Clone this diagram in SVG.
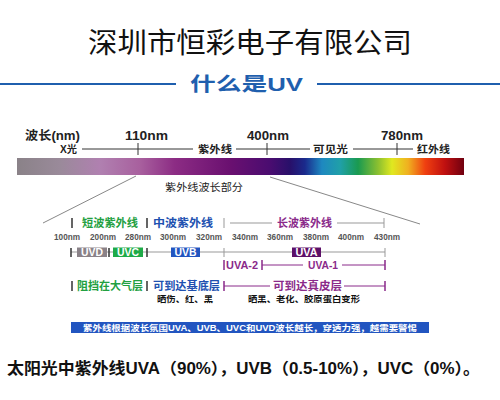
<svg xmlns="http://www.w3.org/2000/svg" width="500" height="400" viewBox="0 0 500 400">
<defs>
<linearGradient id="spec" x1="0" y1="0" x2="1" y2="0">
<stop offset="0" stop-color="#8a8288"/>
<stop offset="0.096" stop-color="#9a8a9a"/>
<stop offset="0.186" stop-color="#b080b0"/>
<stop offset="0.275" stop-color="#a8609e"/>
<stop offset="0.353" stop-color="#8c2c84"/>
<stop offset="0.477" stop-color="#6a1070"/>
<stop offset="0.566" stop-color="#4a0c70"/>
<stop offset="0.611" stop-color="#28106a"/>
<stop offset="0.644" stop-color="#1a2a8c"/>
<stop offset="0.682" stop-color="#1e88c0"/>
<stop offset="0.723" stop-color="#20a0a8"/>
<stop offset="0.763" stop-color="#1a9a50"/>
<stop offset="0.808" stop-color="#8cc030"/>
<stop offset="0.839" stop-color="#e0e820"/>
<stop offset="0.875" stop-color="#f0b020"/>
<stop offset="0.913" stop-color="#f04010"/>
<stop offset="0.957" stop-color="#c01010"/>
<stop offset="1" stop-color="#700010"/>
</linearGradient>
</defs>
<style>
text{font-family:"Liberation Sans","Noto Sans CJK SC",sans-serif}
.cjk{font-family:"Noto Sans CJK SC",sans-serif}
.b{font-weight:bold}
.top{font-size:12px;fill:#222;font-weight:bold}
.sm{font-size:10px;fill:#222}
.nm{font-size:8.5px;fill:#555;font-weight:bold;text-anchor:middle}
.row{font-size:11px;font-weight:600}
.g{fill:#22a040}
.bl{fill:#2050b0}
.pu{fill:#8a2a8a}
.box{font-size:10px;fill:#fff;font-weight:bold;text-anchor:middle}
.ln{stroke:#333;stroke-width:1;fill:none}
.gl{stroke:#999;stroke-width:1;fill:none}
.pl{stroke:#8a2a8a;stroke-width:1;fill:none}
.tk{stroke:#333;stroke-width:1.5}
.ptk{stroke:#8a2a8a;stroke-width:1.5}
</style>

<g id="title">
<text class="cjk" x="250" y="53" font-size="28" fill="#111" text-anchor="middle" textLength="324" lengthAdjust="spacingAndGlyphs">深圳市恒彩电子有限公司</text>
</g>

<g id="subtitle">
<line x1="0" y1="84" x2="176" y2="84" stroke="#1f5fae" stroke-width="2"/>
<line x1="317" y1="84" x2="500" y2="84" stroke="#1f5fae" stroke-width="2"/>
<text class="b" x="190" y="91" font-size="19" fill="#1f5fae" textLength="113" lengthAdjust="spacingAndGlyphs">什么是UV</text>
</g>

<g id="spectrum">
<text class="top" x="25" y="140" textLength="55" lengthAdjust="spacingAndGlyphs">波长(nm)</text>
<text class="top" x="125" y="140" textLength="43" lengthAdjust="spacingAndGlyphs">110nm</text>
<text class="top" x="247" y="140" textLength="42" lengthAdjust="spacingAndGlyphs">400nm</text>
<text class="top" x="381" y="140" textLength="42" lengthAdjust="spacingAndGlyphs">780nm</text>
<text class="sm b" x="60" y="152.5" textLength="17" lengthAdjust="spacingAndGlyphs">X光</text>
<text class="sm b" x="198" y="152.5" textLength="34" lengthAdjust="spacingAndGlyphs">紫外线</text>
<text class="sm b" x="313" y="152.5" textLength="35" lengthAdjust="spacingAndGlyphs">可见光</text>
<text class="sm b" x="417" y="152.5" textLength="33" lengthAdjust="spacingAndGlyphs">红外线</text>
<path class="ln" d="M82 149H193M236 149H310M353 149H413"/>
<path class="ln" d="M138 143V155M267 143V155M397 143V155"/>
<rect x="17" y="158" width="447" height="17" fill="url(#spec)"/>
<text class="sm" x="165" y="190.5" fill="#333" textLength="78" lengthAdjust="spacingAndGlyphs">紫外线波长部分</text>
</g>

<g id="connectors">
<line x1="136" y1="176" x2="43" y2="223" stroke="#888" stroke-width="1"/>
<line x1="270" y1="177" x2="420" y2="224" stroke="#888" stroke-width="1"/>
</g>

<g id="bands">
<path class="tk" d="M72 218V228M147 218V228"/>
<text class="row g" x="82" y="227" textLength="56" lengthAdjust="spacingAndGlyphs">短波紫外线</text>
<text class="row bl" x="153" y="227" textLength="60" lengthAdjust="spacingAndGlyphs">中波紫外线</text>
<path class="gl" d="M224 218V228M230 223H272M337 223H384M384 218V228"/>
<text class="row pu" x="277" y="227" textLength="55" lengthAdjust="spacingAndGlyphs">长波紫外线</text>
</g>

<g id="scale">
<text class="nm" x="67" y="240" textLength="26" lengthAdjust="spacingAndGlyphs">100nm</text>
<text class="nm" x="103" y="240" textLength="26" lengthAdjust="spacingAndGlyphs">200nm</text>
<text class="nm" x="138" y="240" textLength="26" lengthAdjust="spacingAndGlyphs">280nm</text>
<text class="nm" x="173" y="240" textLength="26" lengthAdjust="spacingAndGlyphs">300nm</text>
<text class="nm" x="209" y="240" textLength="26" lengthAdjust="spacingAndGlyphs">320nm</text>
<text class="nm" x="245" y="240" textLength="26" lengthAdjust="spacingAndGlyphs">340nm</text>
<text class="nm" x="280" y="240" textLength="26" lengthAdjust="spacingAndGlyphs">360nm</text>
<text class="nm" x="316" y="240" textLength="26" lengthAdjust="spacingAndGlyphs">380nm</text>
<text class="nm" x="351" y="240" textLength="26" lengthAdjust="spacingAndGlyphs">400nm</text>
<text class="nm" x="387" y="240" textLength="26" lengthAdjust="spacingAndGlyphs">430nm</text>
</g>

<g id="types">
<line x1="71" y1="252" x2="385" y2="252" stroke="#999" stroke-width="1"/>
<path class="tk" d="M71 248V257M109 248V257M147 248V257"/>
<path class="gl" d="M224 248V257M385 248V257"/>
<rect x="77" y="247.5" width="30" height="9.5" fill="#8a8288"/>
<text class="box" x="92" y="256" textLength="22" lengthAdjust="spacingAndGlyphs">UVD</text>
<rect x="113" y="247.5" width="30" height="9.5" fill="#1eaa48"/>
<text class="box" x="128" y="256" textLength="22" lengthAdjust="spacingAndGlyphs">UVC</text>
<rect x="171" y="247.5" width="29" height="9.5" fill="#2255c0"/>
<text class="box" x="185.5" y="256" textLength="22" lengthAdjust="spacingAndGlyphs">UVB</text>
<rect x="292" y="247.5" width="29" height="9.5" fill="#5c1068"/>
<text class="box" x="306.5" y="256" textLength="22" lengthAdjust="spacingAndGlyphs">UVA</text>
</g>

<g id="uva-split">
<line class="ptk" x1="224" y1="260" x2="224" y2="270" stroke-width="2"/>
<text class="pu" x="226" y="268.5" font-size="10" font-weight="600" textLength="32" lengthAdjust="spacingAndGlyphs">UVA-2</text>
<path class="ptk" d="M262 260V270M385 260V270"/>
<path class="pl" d="M262 265H303M342 265H385"/>
<text class="pu" x="308" y="268.5" font-size="10" font-weight="600" textLength="30" lengthAdjust="spacingAndGlyphs">UVA-1</text>
</g>

<g id="penetration">
<path class="tk" d="M72 281V291M147 281V291"/>
<text class="row g" x="77" y="290" textLength="66" lengthAdjust="spacingAndGlyphs">阻挡在大气层</text>
<text class="row bl" x="153" y="290" textLength="67" lengthAdjust="spacingAndGlyphs">可到达基底层</text>
<path class="ptk" d="M224 281V291M385 281V291"/>
<path class="pl" d="M224 286H270M344 286H385"/>
<text class="row pu" x="273" y="290" textLength="69" lengthAdjust="spacingAndGlyphs">可到达真皮层</text>
<text x="157" y="302" font-size="8.5" fill="#111" class="b" textLength="56" lengthAdjust="spacingAndGlyphs">晒伤、红、黑</text>
<text x="248" y="302" font-size="8.5" fill="#111" class="b" textLength="112" lengthAdjust="spacingAndGlyphs">晒黑、老化、胶原蛋白变形</text>
</g>

<g id="banner">
<rect x="71" y="322" width="358" height="11" fill="#2255c0"/>
<text x="83" y="330.8" font-size="8.5" fill="#fff" class="b" textLength="334" lengthAdjust="spacingAndGlyphs">紫外线根据波长氛围UVA、UVB、UVC和UVD波长越长，穿透力强，越需要警惕</text>
</g>

<g id="summary">
<text x="7" y="374" font-size="16" fill="#111" class="b" textLength="473" lengthAdjust="spacingAndGlyphs">太阳光中紫外线UVA（90%），UVB（0.5-10%），UVC（0%）。</text>
</g>
</svg>
